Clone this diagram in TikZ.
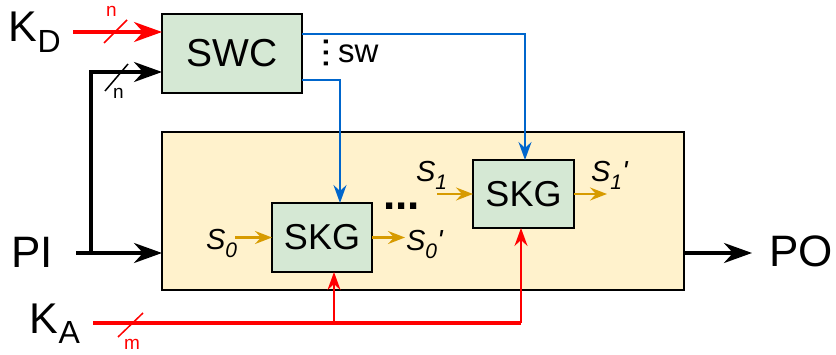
\documentclass[tikz,border=0pt]{standalone}
\usepackage{fontspec}
\setmainfont{Liberation Sans}
\usetikzlibrary{arrows.meta}
\definecolor{cred}{HTML}{FF0000}
\definecolor{cblue}{HTML}{0066CC}
\definecolor{corange}{HTML}{D79B00}
\definecolor{cgreen}{HTML}{D5E8D4}
\definecolor{cyellow}{HTML}{FFF2CC}
\newcommand\fs[1]{\fontsize{#1}{#1}\selectfont}
\newcommand\slab[2]{\fs{29}\itshape S\raisebox{-8pt}{\fs{21}#1}#2}
\tikzset{
  blockbox/.style={draw=black, line width=1.8pt, fill=cgreen, inner sep=0, outer sep=0, font=\fs{36}},
  bigbox/.style={draw=black, line width=1.8pt, fill=cyellow, inner sep=0, outer sep=0},
  lbl/.style={inner sep=0, outer sep=0, anchor=base west},
  bigtip/.style={-{Stealth[length=28pt,width=20pt,inset=9pt]}},
  smalltip/.style={-{Stealth[length=18pt,width=13pt,inset=6pt]}},
  thickblack/.style={line width=3.5pt, black},
  thickred/.style={line width=3.5pt, cred},
  thinred/.style={line width=2.2pt, cred, smalltip},
  blueline/.style={line width=2pt, cblue, smalltip},
  orangeline/.style={line width=2.4pt, corange, -{Stealth[length=17pt,width=13pt,inset=6pt]}},
  slash/.style={line width=1.5pt},
}
\begin{document}
\begin{tikzpicture}[x=1pt,y=-1pt]
\useasboundingbox (0,0) rectangle (836,355);

% boxes
\node[bigbox, minimum width=522pt, minimum height=158pt] (big) at (423,211) {};
\node[blockbox, minimum width=140pt, minimum height=79pt, font=\fs{39}] (swc) at (232,53.5) {SWC};
\node[blockbox, minimum width=100pt, minimum height=69pt] (skg0) at (322,237.5) {SKG};
\node[blockbox, minimum width=101pt, minimum height=68pt] (skg1) at (523.5,194) {SKG};

% labels
\node[lbl] (kd) at (9,42) {\fs{43}K\raisebox{-11pt}{\fs{32}D}};
\node[lbl] (ka) at (30,334) {\fs{43}K\raisebox{-10pt}{\fs{32}A}};
\node[lbl] (pi) at (11,268) {\fs{44}PI};
\node[lbl] (po) at (769,267) {\fs{44}PO};
\node[lbl] (s0) at (206,250) {\slab{0}{}};
\node[lbl] (s0p) at (406,251) {\slab{0}{\textquotesingle}};
\node[lbl] (s1) at (416,182) {\slab{1}{}};
\node[lbl] (s1p) at (591,182) {\slab{1}{\textquotesingle}};
\node[lbl] (sw) at (338,63) {\fs{33}sw};
\node[inner sep=0, rotate=90] (vdots) at (326,53) {\fs{40}...};
\node[lbl] (hdots) at (383,210) {\fs{44}\bfseries ...};
\node[lbl, text=cred] (nlab1) at (106,17) {\fs{19}n};
\node[lbl, text=black] (nlab2) at (113,99) {\fs{19}n};
\node[lbl, text=cred] (mlab) at (124,350) {\fs{19}m};

% coordinates
\coordinate (kdstart) at (73,32);
\coordinate (pistart) at (76,253);
\coordinate (branch) at (91,253);
\coordinate (bend) at (91,72);
\coordinate (kastart) at (93,323);
\coordinate (poend) at (752,253);

% K_D red
\draw[thickred, bigtip] (kdstart) -- (kdstart -| swc.west);
\draw[slash, cred] (104,43) -- (127,20);

% PI black
\draw[thickblack, bigtip] (pistart) -- (pistart -| big.west);
\draw[thickblack, bigtip] (branch) -- (bend) -- (bend -| swc.west);
\draw[slash, black] (105,91) -- (128,64);

% PO
\draw[thickblack, bigtip] (poend -| big.east) -- (poend);

% blue
\draw[blueline] ([yshift=-20pt]swc.north east) -| ([xshift=1.5pt]skg1.north);
\draw[blueline] ([yshift=13pt]swc.south east) -| ([xshift=18pt]skg0.north);

% K_A red
\draw[thickred] (kastart) -- ([xshift=-2.5pt]skg1.south |- kastart);
\draw[thinred] ([xshift=-2.5pt]skg1.south |- kastart) -- ([xshift=-2.5pt]skg1.south);
\draw[thinred] ([xshift=12pt]skg0.south |- kastart) -- ([xshift=12pt]skg0.south);
\draw[slash, cred] (118,337) -- (143,313);

% orange
\draw[orangeline] ([xshift=-37pt]skg0.west) -- (skg0.west);
\draw[orangeline] (skg0.east) -- ([xshift=33pt]skg0.east);
\draw[orangeline] ([xshift=-36pt]skg1.west) -- (skg1.west);
\draw[orangeline] (skg1.east) -- ([xshift=33pt]skg1.east);
\end{tikzpicture}
\end{document}
